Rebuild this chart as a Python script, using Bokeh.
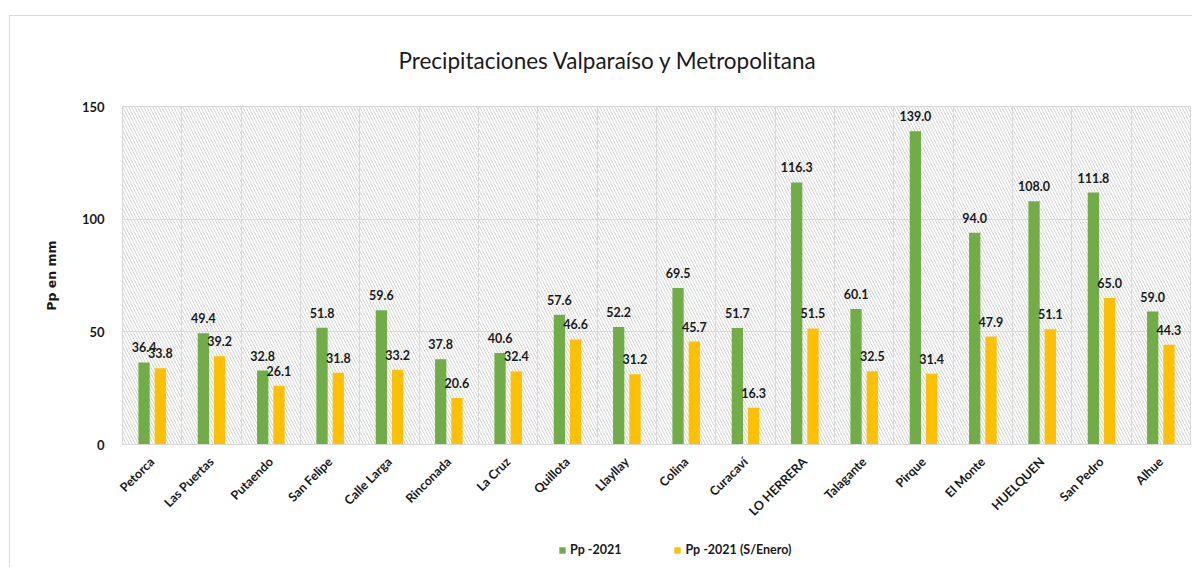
import math
from bokeh.plotting import figure
from bokeh.layouts import column
from bokeh.models import ColumnDataSource, FixedTicker, BoxAnnotation, Legend, LegendItem, Label
from bokeh.core.properties import value
from bokeh.transform import dodge
from bokeh.embed import file_html
from bokeh.resources import INLINE

# ---------------- data ----------------
stations = ["Petorca", "Las Puertas", "Putaendo", "San Felipe", "Calle Larga",
            "Rinconada", "La Cruz", "Quillota", "Llayllay", "Colina", "Curacaví",
            "LO HERRERA", "Talagante", "Pirque", "El Monte", "HUELQUEN",
            "San Pedro", "Alhue"]
pp_2021 = [36.4, 49.4, 32.8, 51.8, 59.6, 37.8, 40.6, 57.6, 52.2, 69.5, 51.7,
           116.3, 60.1, 139.0, 94.0, 108.0, 111.8, 59.0]
pp_sin_enero = [33.8, 39.2, 26.1, 31.8, 33.2, 20.6, 32.4, 46.6, 31.2, 45.7, 16.3,
                51.5, 32.5, 31.4, 47.9, 51.1, 65.0, 44.3]
y_ticks = [0, 50, 100, 150]
series_names = ["Pp -2021", "Pp -2021 (S/Enero)"]
title_text = "Precipitaciones Valparaíso y Metropolitana"
y_label = "Pp en mm"

# ---------------- style ----------------
GREEN = "#70AD47"
YELLOW = "#FFC000"
GRID = "#d9d9d9"
TXT = "#1a1a1a"
FONT = "Lato"
W_TOTAL = 1182

idx = list(range(len(stations)))
src = ColumnDataSource(dict(
    x=idx, a=pp_2021, b=pp_sin_enero,
    la=[f"{v:.1f}" for v in pp_2021],
    lb=[f"{v:.1f}" for v in pp_sin_enero],
))

# ---------------- title strip ----------------
tfig = figure(width=W_TOTAL, height=80, x_range=(0, 1), y_range=(0, 1),
              output_backend="svg", toolbar_location=None,
              x_axis_type=None, y_axis_type=None, min_border=0)
tfig.outline_line_color = None
tfig.xgrid.visible = False
tfig.ygrid.visible = False
tfig.add_layout(Label(x=0.4546, y=0.45, text=title_text,
                      text_align="center", text_baseline="middle",
                      text_font=FONT, text_font_size="22.5px", text_color=TXT))

# ---------------- main chart ----------------
p = figure(width=W_TOTAL, height=430,
           x_range=(-0.5, len(stations) - 0.5), y_range=(0, 150),
           output_backend="svg", toolbar_location=None,
           min_border_left=112, min_border_right=2,
           min_border_top=10, min_border_bottom=80)

p.outline_line_color = GRID
p.background_fill_color = "white"
p.border_fill_color = "white"

# hatched plot area
p.add_layout(BoxAnnotation(fill_alpha=0, line_color=None,
                           hatch_pattern="\\", hatch_color="#d4d4d4",
                           hatch_scale=6, hatch_weight=1, level="image"))

# grids
p.xgrid.ticker = FixedTicker(ticks=[i - 0.5 for i in range(len(stations) + 1)])
p.xgrid.grid_line_color = GRID
p.ygrid.ticker = FixedTicker(ticks=y_ticks)
p.ygrid.grid_line_color = GRID

# bars
OFF = 0.137
W = 0.19
r1 = p.vbar(x=dodge("x", -OFF, range=p.x_range), top="a", width=W, source=src,
            fill_color=GREEN, line_color=None)
r2 = p.vbar(x=dodge("x", OFF, range=p.x_range), top="b", width=W, source=src,
            fill_color=YELLOW, line_color=None)

# data labels
for col, lab, off in (("a", "la", -OFF), ("b", "lb", OFF)):
    p.text(x=dodge("x", off, range=p.x_range), y=col, text=lab, source=src,
           text_align="center", text_baseline="alphabetic", y_offset=-15,
           text_font=value(FONT), text_font_style="bold",
           text_font_size="12.5px", text_color=TXT)

# axes
p.xaxis.ticker = FixedTicker(ticks=idx)
p.xaxis.major_label_overrides = {i: s for i, s in enumerate(stations)}
p.xaxis.major_label_orientation = math.pi / 4
p.xaxis.major_tick_line_color = None
p.xaxis.minor_tick_line_color = None
p.xaxis.axis_line_color = GRID
p.xaxis.major_label_standoff = 9
p.xaxis.major_label_text_font = FONT
p.xaxis.major_label_text_font_style = "bold"
p.xaxis.major_label_text_font_size = "12.5px"
p.xaxis.major_label_text_color = TXT

p.yaxis.ticker = FixedTicker(ticks=y_ticks)
p.yaxis.major_tick_line_color = None
p.yaxis.minor_tick_line_color = None
p.yaxis.axis_line_color = None
p.yaxis.major_label_standoff = 12
p.yaxis.major_label_text_font = FONT
p.yaxis.major_label_text_font_style = "bold"
p.yaxis.major_label_text_font_size = "13px"
p.yaxis.major_label_text_color = TXT
p.yaxis.axis_label = y_label
p.yaxis.axis_label_standoff = 20
p.yaxis.axis_label_text_font = "DejaVu Sans"
p.yaxis.axis_label_text_font_style = "bold"
p.yaxis.axis_label_text_font_size = "12.5px"
p.yaxis.axis_label_text_color = TXT

# ---------------- legend strip ----------------
leg = figure(width=W_TOTAL, height=41, x_range=(0, 1), y_range=(0, 1),
             output_backend="svg", toolbar_location=None,
             x_axis_type=None, y_axis_type=None, min_border=0)
leg.outline_line_color = None
leg.xgrid.visible = False
leg.ygrid.visible = False
# off-screen proxies carrying the series colours for the legend swatches
g1 = leg.vbar(x=[0.5], top=[-2], bottom=[-3], width=0.1, fill_color=GREEN, line_color=None)
g2 = leg.vbar(x=[0.5], top=[-2], bottom=[-3], width=0.1, fill_color=YELLOW, line_color=None)
legend = Legend(items=[LegendItem(label=series_names[0], renderers=[g1]),
                       LegendItem(label=series_names[1], renderers=[g2])],
                orientation="horizontal", location=(436, 10),
                glyph_width=8, glyph_height=8, label_standoff=4,
                spacing=52, padding=0, margin=0,
                border_line_color=None, background_fill_alpha=0,
                label_text_font=FONT, label_text_font_style="bold",
                label_text_font_size="12.5px", label_text_color=TXT)
leg.add_layout(legend)

layout = column(tfig, p, leg, spacing=0)
layout.margin = (15, 0, 0, 9)
layout.styles = {"border-left": f"1px solid {GRID}", "border-top": f"1px solid {GRID}"}

open("out.html", "w").write(file_html(layout, INLINE))
